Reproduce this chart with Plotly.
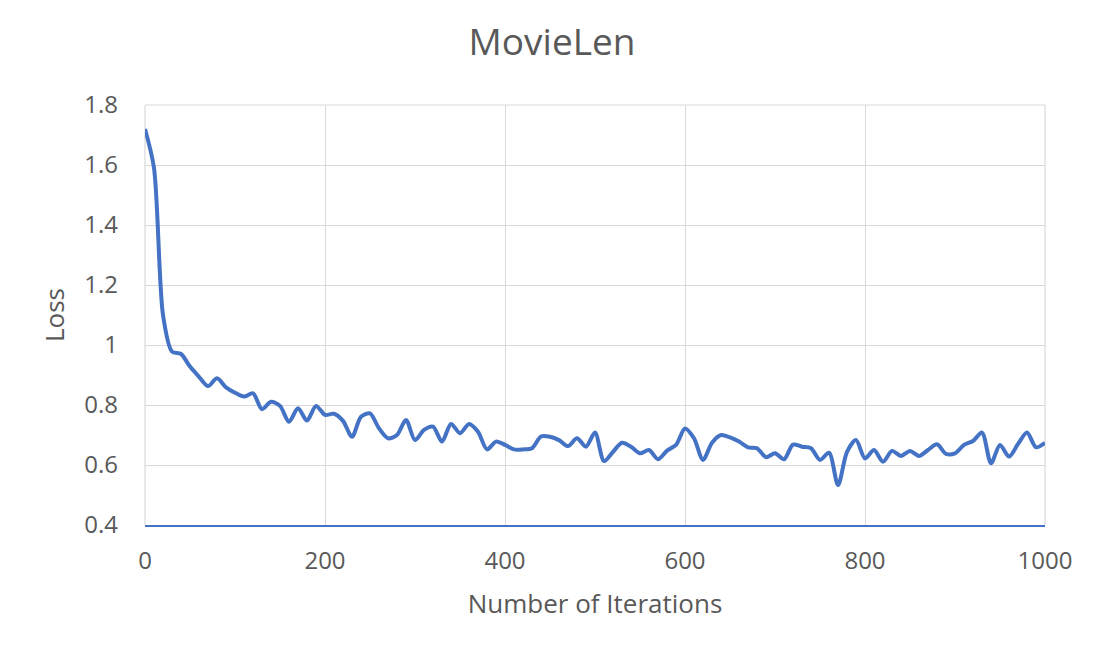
import plotly.graph_objects as go

iterations = list(range(0, 1001, 10))
loss = [
    1.72, 1.59, 1.10, 0.978, 0.97, 0.928, 0.894, 0.863, 0.889, 0.859,
    0.841, 0.828, 0.839, 0.786, 0.811, 0.797, 0.744, 0.789, 0.748, 0.797,
    0.767, 0.771, 0.747, 0.694, 0.761, 0.772, 0.722, 0.689, 0.70, 0.75,
    0.683, 0.717, 0.728, 0.678, 0.737, 0.706, 0.737, 0.711, 0.652, 0.678,
    0.667, 0.652, 0.652, 0.656, 0.695, 0.694, 0.683, 0.663, 0.689, 0.661,
    0.708, 0.613, 0.644, 0.674, 0.661, 0.639, 0.65, 0.619, 0.648, 0.667,
    0.722, 0.689, 0.617, 0.674, 0.70, 0.692, 0.678, 0.659, 0.656, 0.626,
    0.639, 0.619, 0.668, 0.661, 0.656, 0.617, 0.641, 0.533, 0.644, 0.683,
    0.622, 0.65, 0.611, 0.647, 0.63, 0.647, 0.63, 0.65, 0.669, 0.637,
    0.639, 0.667, 0.68, 0.708, 0.606, 0.667, 0.628, 0.67, 0.708, 0.659,
    0.674,
]

x_tickvals = [0, 200, 400, 600, 800, 1000]
x_ticktext = ["0", "200", "400", "600", "800", "1000"]
y_tickvals = [0.4, 0.6, 0.8, 1.0, 1.2, 1.4, 1.6, 1.8]
y_ticktext = ["0.4", "0.6", "0.8", "1", "1.2", "1.4", "1.6", "1.8"]

FONT = "Open Sans"
TXT = "#595959"
GRID = "#d9d9d9"
BLUE = "#4472C4"

fig = go.Figure()
fig.add_trace(go.Scatter(
    x=iterations, y=loss, mode="lines",
    line=dict(color=BLUE, width=4, shape="spline", smoothing=0.8),
    showlegend=False, hoverinfo="x+y",
))

fig.update_layout(
    width=1100, height=645,
    paper_bgcolor="white", plot_bgcolor="white",
    margin=dict(l=137, r=63, t=97, b=128),
    font=dict(family=FONT, color=TXT),
    title=dict(text="MovieLen", x=544 / 1100, xanchor="center", xref="container",
               y=1 - 34 / 645, yref="container", yanchor="middle",
               font=dict(family=FONT, size=37, color=TXT)),
)
fig.update_xaxes(
    range=[0, 1000], tickvals=x_tickvals, ticktext=x_ticktext,
    showgrid=True, gridcolor=GRID, gridwidth=1.2,
    showline=True, linecolor=BLUE, linewidth=1.5,
    zeroline=False, ticks="", ticklabelstandoff=13,
    tickfont=dict(family=FONT, size=24, color=TXT),
    title=dict(text="Number of Iterations", standoff=20,
               font=dict(family=FONT, size=26, color=TXT)),
)
fig.update_yaxes(
    range=[0.4, 1.8], tickvals=y_tickvals, ticktext=y_ticktext,
    showgrid=True, gridcolor=GRID, gridwidth=1.2,
    showline=False, zeroline=False, ticks="", ticklabelstandoff=26,
    tickfont=dict(family=FONT, size=24, color=TXT),
    title=dict(text="Loss", standoff=12,
               font=dict(family=FONT, size=26, color=TXT)),
)
# light frame for the edge gridlines (top at 1.8, left at 0, right at 1000)
fig.add_shape(type="line", xref="paper", yref="paper", x0=0, x1=1, y0=1, y1=1,
              line=dict(color=GRID, width=1.2), layer="below")
fig.add_shape(type="line", xref="paper", yref="paper", x0=0, x1=0, y0=0, y1=1,
              line=dict(color=GRID, width=1.2), layer="below")
fig.add_shape(type="line", xref="paper", yref="paper", x0=1, x1=1, y0=0, y1=1,
              line=dict(color=GRID, width=1.2), layer="below")

fig.write_html("out.html")
